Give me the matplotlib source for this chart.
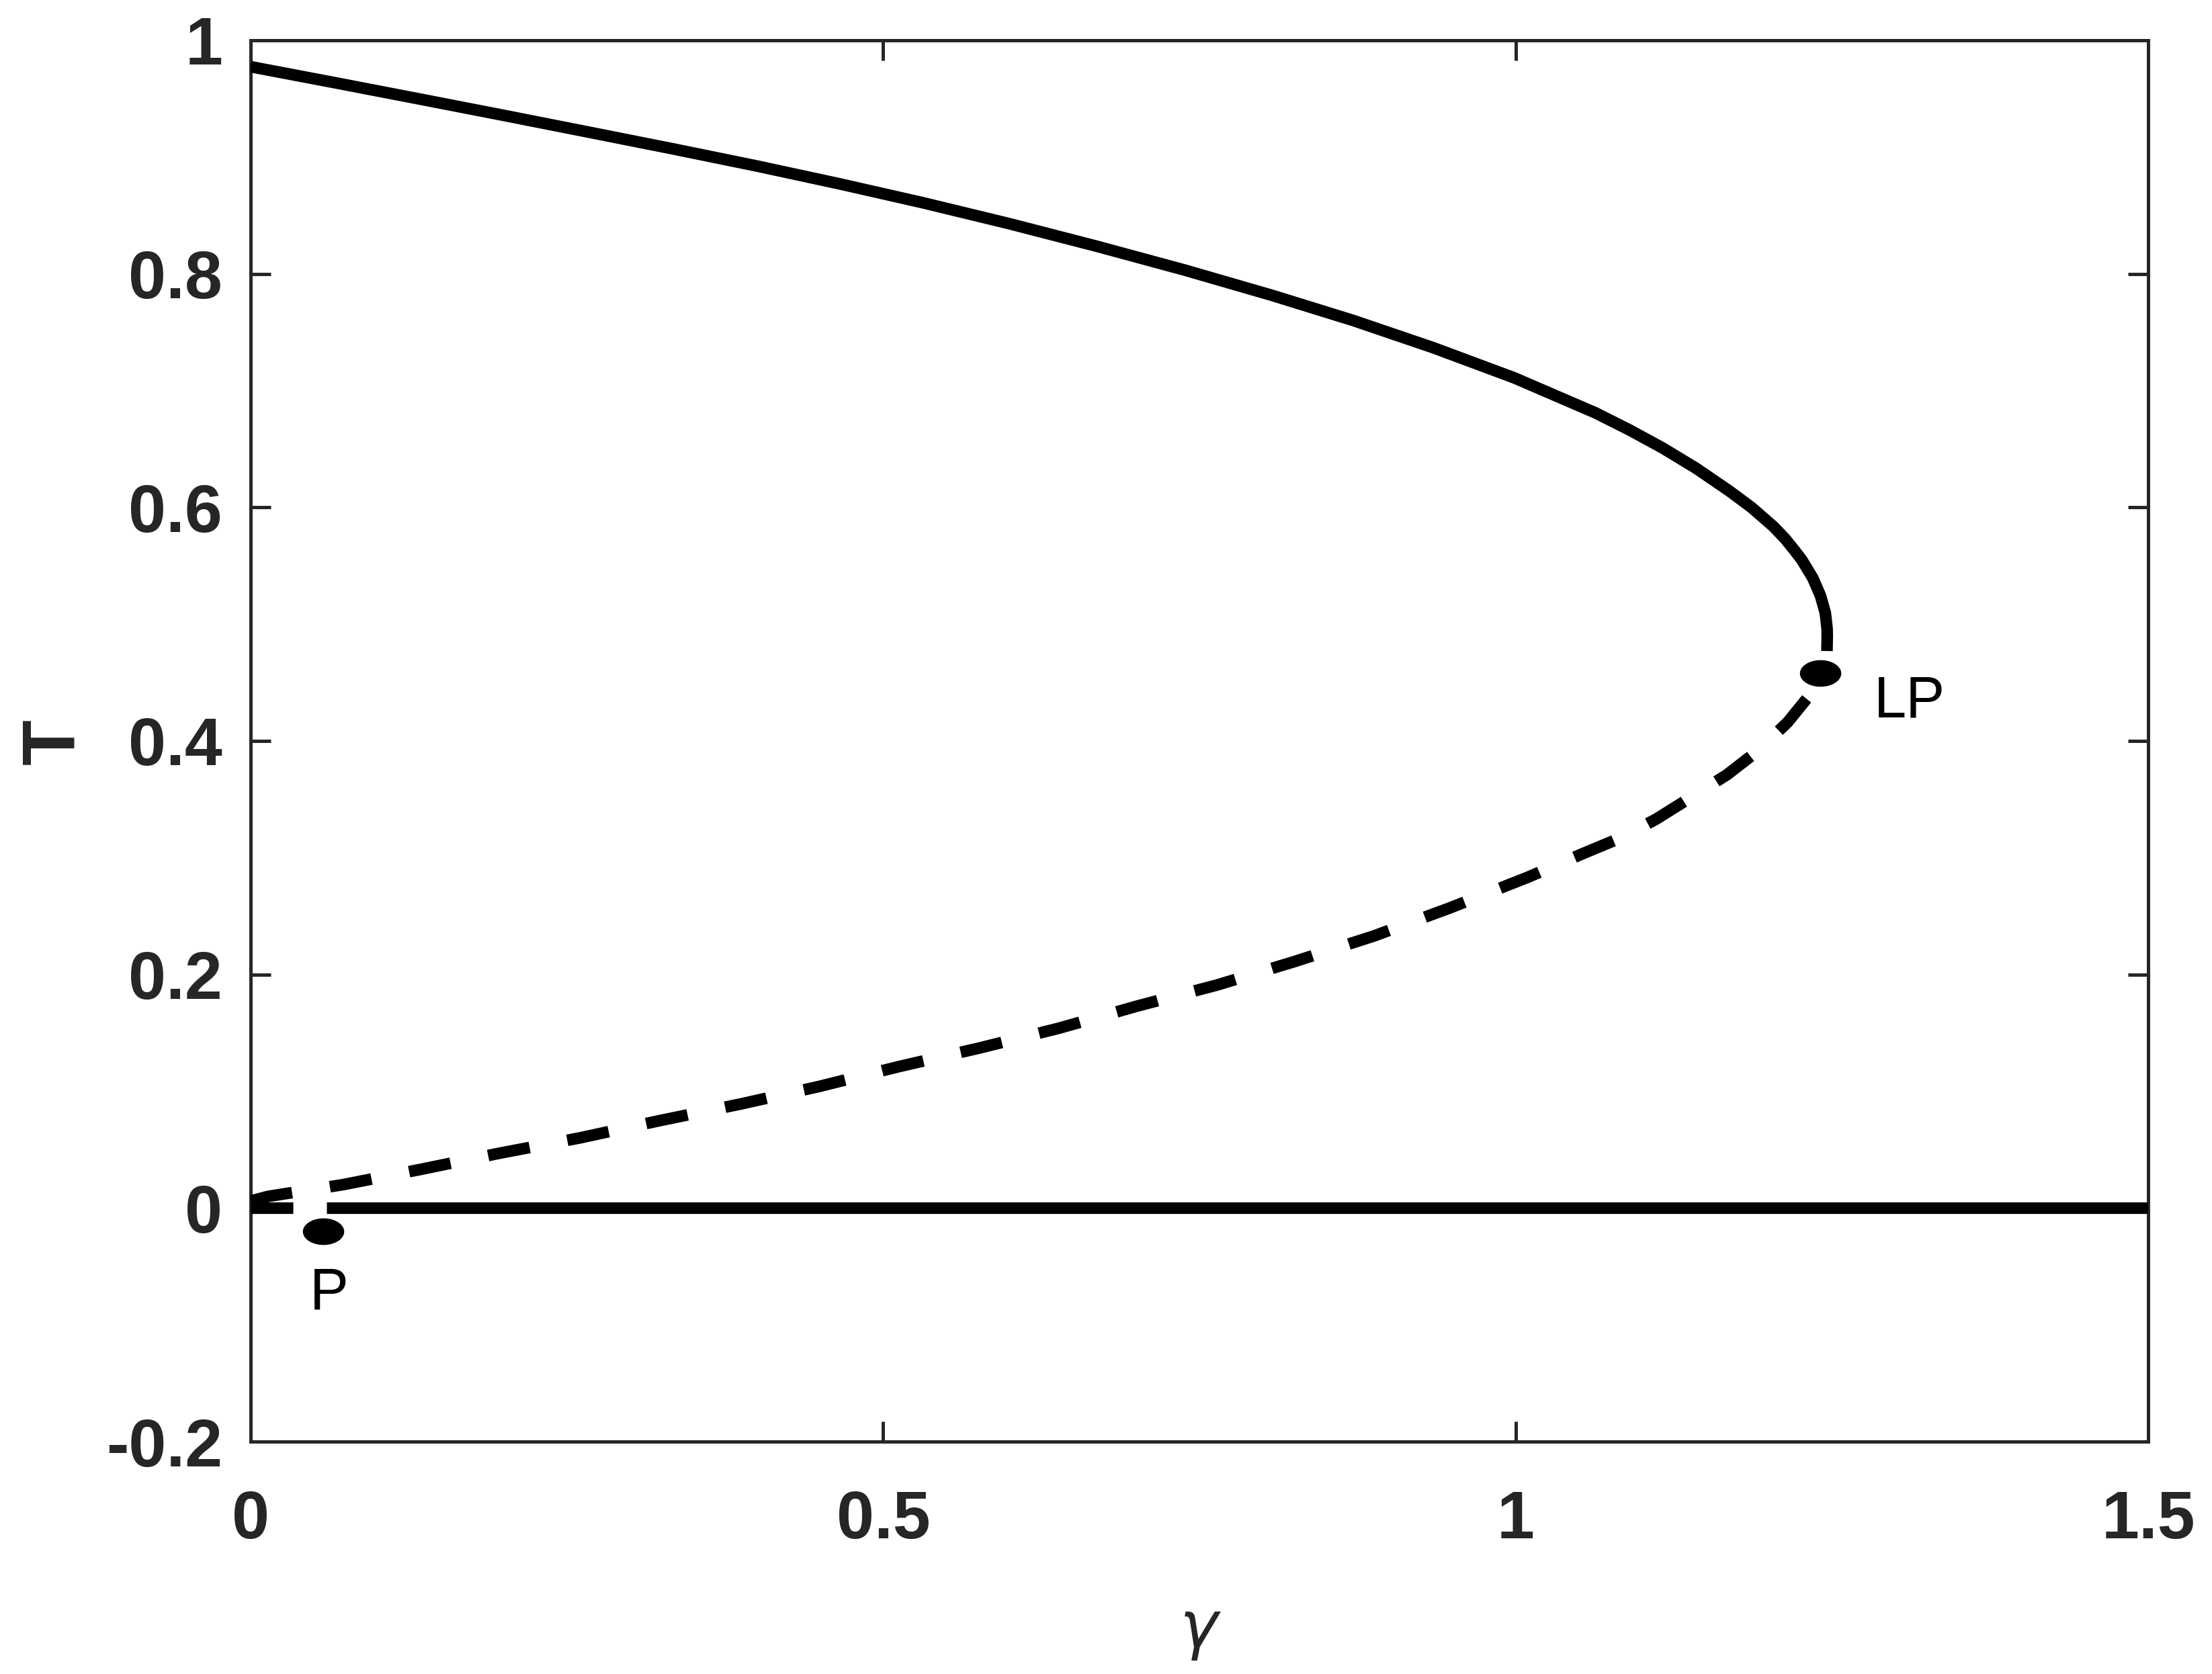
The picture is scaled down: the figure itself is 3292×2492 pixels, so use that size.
import matplotlib
matplotlib.use('Agg')
import matplotlib.pyplot as plt
from matplotlib.path import Path
import numpy as np

# ---------------- data ----------------
# stable upper branch (solid), read along the curve from gamma = 0 to the fold
upper_gamma = [0.000, 0.069, 0.138, 0.203, 0.268, 0.334, 0.400, 0.4655, 0.531, 0.600,
               0.669, 0.7385, 0.808, 0.8715, 0.935, 0.999, 1.063, 1.0895, 1.116, 1.1425,
               1.169, 1.1865, 1.204, 1.2132, 1.221, 1.2264, 1.2307, 1.2349, 1.2379, 1.2409,
               1.2429, 1.2448, 1.2456, 1.2462, 1.2463, 1.2461]
upper_T = [0.9774, 0.9632, 0.9488, 0.9351, 0.9212, 0.9070, 0.8924, 0.8771, 0.861, 0.8429,
           0.8236, 0.8032, 0.7814, 0.7601, 0.7367, 0.7109, 0.681, 0.6666, 0.651, 0.6336,
           0.614, 0.5999, 0.5834, 0.5729, 0.5624, 0.5547, 0.547, 0.5395, 0.532, 0.5245,
           0.517, 0.5095, 0.502, 0.496, 0.490, 0.477]

# unstable lower branch (dashed), from the origin up to the limit point
lower_gamma = [0.000, 0.014, 0.073, 0.134, 0.197, 0.260, 0.324, 0.387, 0.449, 0.512,
               0.576, 0.639, 0.701, 0.764, 0.825, 0.888, 0.948, 1.009, 1.052, 1.083,
               1.111, 1.139, 1.167, 1.192, 1.215, 1.233, 1.2408]
lower_T = [0.006, 0.010, 0.020, 0.033, 0.047, 0.060, 0.075, 0.089, 0.104, 0.121,
           0.137, 0.154, 0.173, 0.191, 0.211, 0.233, 0.257, 0.283, 0.303, 0.317,
           0.333, 0.352, 0.371, 0.392, 0.416, 0.440, 0.458]

trivial_unstable_gamma = [0.0, 0.060]
trivial_unstable_T = [0.0, 0.0]
trivial_stable_gamma = [0.060, 1.5]
trivial_stable_T = [0.0, 0.0]

special_points = ['P', 'LP']
special_gamma = [0.0574, 1.2408]
special_T = [-0.0201, 0.458]
special_label_gamma = [0.0467, 1.2833]
special_label_T = [-0.0863, 0.4206]

xticks = [0, 0.5, 1, 1.5]
xticklabels = ['0', '0.5', '1', '1.5']
yticks = [-0.2, 0, 0.2, 0.4, 0.6, 0.8, 1.0]
yticklabels = ['-0.2', '0', '0.2', '0.4', '0.6', '0.8', '1']

# ---------------- figure ----------------
DPI = 100
W, H = 3292, 2492
def px(p):
    return p * 72.0 / DPI

fig = plt.figure(figsize=(W / DPI, H / DPI), dpi=DPI)
fig.patch.set_facecolor('white')
ax = fig.add_axes([373 / W, 1 - 2146 / H, (3197 - 373) / W, (2146 - 60) / H])

GREY = '#262626'
LW = px(17.3)
FONT = 'Liberation Sans'
DASH = (0, (63 / 17.3, 57 / 17.3))

ax.plot(upper_gamma, upper_T, color='black', lw=LW,
        solid_capstyle='butt', solid_joinstyle='round', zorder=3)
ax.plot(lower_gamma, lower_T, color='black', lw=LW,
        linestyle=DASH, dash_capstyle='butt', dash_joinstyle='round', zorder=3)
ax.plot(trivial_unstable_gamma, trivial_unstable_T, color='black', lw=LW,
        linestyle=DASH, dash_capstyle='butt', zorder=3)
ax.plot(trivial_stable_gamma, trivial_stable_T, color='black', lw=LW,
        solid_capstyle='butt', zorder=3)

t = np.linspace(0, 2 * np.pi, 120)
ell = Path(np.column_stack([1.52 * np.cos(t), np.sin(t)]), closed=True)
ax.plot(special_gamma, special_T, linestyle='none', marker=ell, markersize=px(64),
        markerfacecolor='black', markeredgecolor='white', markeredgewidth=px(2.5),
        zorder=4)

for name, gx, gy in zip(special_points, special_label_gamma, special_label_T):
    ax.text(gx, gy, name, fontsize=px(86.6), family=FONT, color='black',
            ha='left', va='baseline', zorder=5)

ax.set_xlim(0, 1.5)
ax.set_ylim(-0.2, 1.0)
ax.set_xticks(xticks)
ax.set_xticklabels(xticklabels)
ax.set_yticks(yticks)
ax.set_yticklabels(yticklabels)

for s in ax.spines.values():
    s.set_linewidth(px(5))
    s.set_color(GREY)

ax.tick_params(axis='both', which='major', direction='in', length=px(30), width=px(5),
               color=GREY, labelcolor=GREY, top=True, right=True)
ax.tick_params(axis='x', pad=px(71))
ax.tick_params(axis='y', pad=px(42))
for lab in ax.get_xticklabels() + ax.get_yticklabels():
    lab.set_fontfamily(FONT)
    lab.set_fontweight('bold')
    lab.set_fontsize(px(100.5))

# axis labels
fig.text(80 / W, 1 - 1104 / H, 'T', rotation=90, ha='center', va='center',
         fontsize=px(111), fontweight='bold', family=FONT, color=GREY)
fig.text(1786 / W, 1 - 2428 / H, r'$\gamma$', ha='center', va='center',
         fontsize=px(96), color=GREY, math_fontfamily='dejavusans')

fig.savefig('out.png', dpi=DPI, facecolor='white')
